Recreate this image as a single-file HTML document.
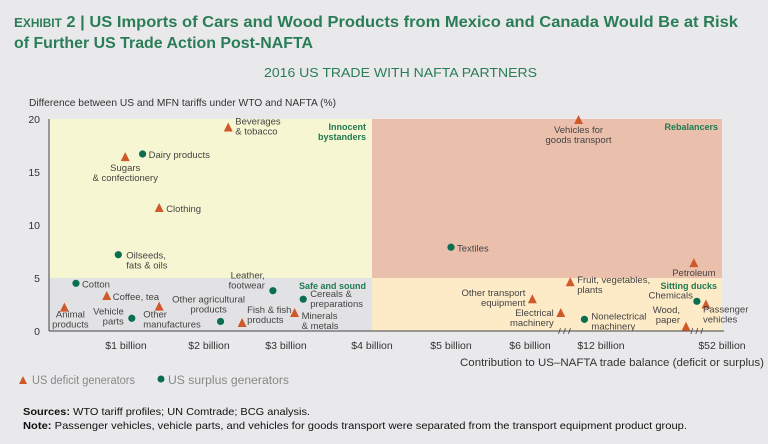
<!DOCTYPE html>
<html><head><meta charset="utf-8"><style>
body{margin:0;background:#e9e9eb;font-family:"Liberation Sans",sans-serif;}
svg{display:block}
</style></head><body>
<svg id="chart" width="768" height="444" viewBox="0 0 768 444">
<rect x="0" y="0" width="768" height="444" fill="#e9e9eb"/>
<text x="14" y="27" font-size="16" font-weight="bold" fill="#2a7d57" textLength="724" lengthAdjust="spacingAndGlyphs"><tspan font-size="13">E</tspan><tspan font-size="11.5">XHIBIT</tspan> 2 | US Imports of Cars and Wood Products from Mexico and Canada Would Be at Risk</text>
<text x="14" y="48" font-size="16" font-weight="bold" fill="#2a7d57" textLength="299" lengthAdjust="spacingAndGlyphs">of Further US Trade Action Post-NAFTA</text>
<text x="264" y="77" font-size="13" fill="#2a7d57" textLength="273" lengthAdjust="spacingAndGlyphs">2016 US TRADE  WITH NAFTA PARTNERS</text>
<text x="29" y="106" font-size="10.5" fill="#333" textLength="307" lengthAdjust="spacingAndGlyphs">Difference between US and MFN tariffs under WTO and NAFTA (%)</text>
<g id="quads"></g>
<g id="axes"></g>
<g id="marks"></g>
<text x="366" y="130" font-size="9" font-weight="bold" fill="#1f7a52" text-anchor="end">Innocent</text>
<text x="366" y="140" font-size="9" font-weight="bold" fill="#1f7a52" text-anchor="end">bystanders</text>
<text x="718" y="130" font-size="9" font-weight="bold" fill="#1f7a52" text-anchor="end">Rebalancers</text>
<text x="366" y="289" font-size="9" font-weight="bold" fill="#1f7a52" text-anchor="end">Safe and sound</text>
<text x="717" y="289" font-size="9" font-weight="bold" fill="#1f7a52" text-anchor="end">Sitting ducks</text>
<text x="460" y="366" font-size="11" fill="#333" textLength="304" lengthAdjust="spacingAndGlyphs">Contribution to US–NAFTA trade balance (deficit or surplus)</text>
<g>
<polygon points="19,384 23,376 27,384" fill="#d0592a"/>
<text x="32" y="384" font-size="11.5" fill="#888" textLength="103" lengthAdjust="spacingAndGlyphs">US deficit generators</text>
<circle cx="161" cy="379" r="3.5" fill="#0b6e4f"/>
<text x="168" y="384" font-size="11.5" fill="#888" textLength="121" lengthAdjust="spacingAndGlyphs">US surplus generators</text>
</g>
<text x="23" y="415" font-size="10.5" fill="#111" textLength="287" lengthAdjust="spacingAndGlyphs"><tspan font-weight="bold">Sources:</tspan> WTO tariff profiles; UN Comtrade; BCG analysis.</text>
<text x="23" y="429" font-size="10.5" fill="#111" textLength="664" lengthAdjust="spacingAndGlyphs"><tspan font-weight="bold">Note:</tspan> Passenger vehicles, vehicle parts, and vehicles for goods transport were separated from the transport equipment product group.</text>
</svg>
<script>
// data
const xTickValues=[1,2,3,4,5,6,12,52];
const xTickLabels=["$1 billion","$2 billion","$3 billion","$4 billion","$5 billion","$6 billion","$12 billion","$52 billion"];
const yTickValues=[0,5,10,15,20];
const categories=["Beverages & tobacco","Sugars & confectionery","Dairy products","Clothing","Oilseeds, fats & oils","Cotton","Coffee, tea","Animal products","Vehicle parts","Other manufactures","Other agricultural products","Fish & fish products","Leather, footwear","Cereals & preparations","Minerals & metals","Vehicles for goods transport","Textiles","Petroleum","Fruit, vegetables, plants","Other transport equipment","Electrical machinery","Nonelectrical machinery","Chemicals","Passenger vehicles","Wood, paper"];
const tradeBalance=[2.25,0.99,1.2,1.4,0.9,0.35,0.75,0.2,1.07,1.4,2.15,2.43,2.83,3.2,3.1,10.1,5.0,42.7,9.4,6.2,8.6,10.6,43.7,46.7,40.1];
const tariffDiff=[19.2,16.4,16.7,11.6,7.2,4.5,3.3,2.2,1.2,2.3,0.9,0.75,3.8,3.0,1.7,19.9,7.9,6.4,4.6,3.0,1.7,1.1,2.8,2.5,0.4];
const groups=["d","d","s","d","s","s","d","d","s","d","s","d","s","s","d","d","s","d","d","d","d","s","s","d","d"];
// layout (not data)
const knotV=[0,1,2,3,4,5,6,12,52], knotP=[49,126,209,286,372,451,530,601,722];
const labelLayout=[
 [7,-3,"start",["Beverages","& tobacco"]],[0,14,"middle",["Sugars","& confectionery"]],[6,4,"start",["Dairy products"]],[7,4,"start",["Clothing"]],[8,4,"start",["Oilseeds,","fats & oils"]],[6,4,"start",["Cotton"]],[6,4,"start",["Coffee, tea"]],[6,10,"middle",["Animal","products"]],[-8,-4,"end",["Vehicle","parts"]],[-16,11,"start",["Other","manufactures"]],[-12,-19,"middle",["Other agricultural","products"]],[5,-10,"start",["Fish & fish","products"]],[-8,-12,"end",["Leather,","footwear"]],[7,-2,"start",["Cereals &","preparations"]],[7,6,"start",["Minerals","& metals"]],[0,13,"middle",["Vehicles for","goods transport"]],[6,4,"start",["Textiles"]],[0,13,"middle",["Petroleum"]],[7,1,"start",["Fruit, vegetables,","plants"]],[-7,-3,"end",["Other transport","equipment"]],[-7,3,"end",["Electrical","machinery"]],[7,0,"start",["Nonelectrical","machinery"]],[-4,-3,"end",["Chemicals"]],[-3,8,"start",["Passenger","vehicles"]],[-6,-14,"end",["Wood,","paper"]]
];
const NS="http://www.w3.org/2000/svg";
function X(v){for(let i=1;i<knotV.length;i++){if(v<=knotV[i]){const t=(v-knotV[i-1])/(knotV[i]-knotV[i-1]);return knotP[i-1]+t*(knotP[i]-knotP[i-1]);}}return knotP[knotP.length-1];}
function Y(v){return 331-v*10.6;}
function mk(tag,attrs,parent){const e=document.createElementNS(NS,tag);for(const k in attrs)e.setAttribute(k,attrs[k]);parent.appendChild(e);return e;}
const quads=document.getElementById('quads'),axes=document.getElementById('axes'),marks=document.getElementById('marks');
const xl=X(0),xm=X(4),xr=X(52),yt=Y(20),ym=Y(5),yb=Y(0);
let q;
q=mk('rect',{x:xl,y:yt,width:xm-xl,height:ym-yt,fill:'#f6f6d2'},quads);


q=mk('rect',{x:xm,y:yt,width:xr-xm,height:ym-yt,fill:'#eabfab'},quads);


q=mk('rect',{x:xl,y:ym,width:xm-xl,height:yb-ym,fill:'#e2e2e4'},quads);


q=mk('rect',{x:xm,y:ym,width:xr-xm,height:yb-ym,fill:'#fdebc8'},quads);


let a=mk('line',{x1:xl,y1:yt,x2:xl,y2:yb,stroke:'#444','stroke-width':1},axes);


a=mk('line',{x1:xl,y1:yb,x2:xr+2,y2:yb,stroke:'#444','stroke-width':1},axes);


yTickValues.forEach(v=>{const t=mk('text',{x:40,y:Y(v)+4,'font-size':10.5,'text-anchor':'end',fill:'#333'},axes);t.textContent=v;

});
xTickValues.forEach((v,i)=>{const t=mk('text',{x:X(v),y:349,'font-size':10.5,'text-anchor':'middle',fill:'#333'},axes);t.textContent=xTickLabels[i];

});
[X(9),X(44)].forEach(bx=>{const g=mk('path',{d:`M${bx-7},${yb+3} l2,-6 M${bx-2},${yb+3} l2,-6 M${bx+3},${yb+3} l2,-6`,stroke:'#444','stroke-width':0.8,fill:'none'},axes);

});
categories.forEach((c,i)=>{const px=X(tradeBalance[i]),py=Y(tariffDiff[i]);let m;
if(groups[i]==='d'){m=mk('polygon',{points:`${px-4.5},${py+4} ${px},${py-5} ${px+4.5},${py+4}`,fill:'#d0592a'},marks);}
else{m=mk('circle',{cx:px,cy:py,r:3.6,fill:'#0b6e4f'},marks);}


const L=labelLayout[i];const t=mk('text',{x:px+L[0],y:py+L[1],'font-size':9.5,'text-anchor':L[2],fill:'#444'},marks);
L[3].forEach((ln,j)=>{const s=mk('tspan',{x:px+L[0],dy:j?10:0},t);s.textContent=ln;});

});
</script>
</body></html>
